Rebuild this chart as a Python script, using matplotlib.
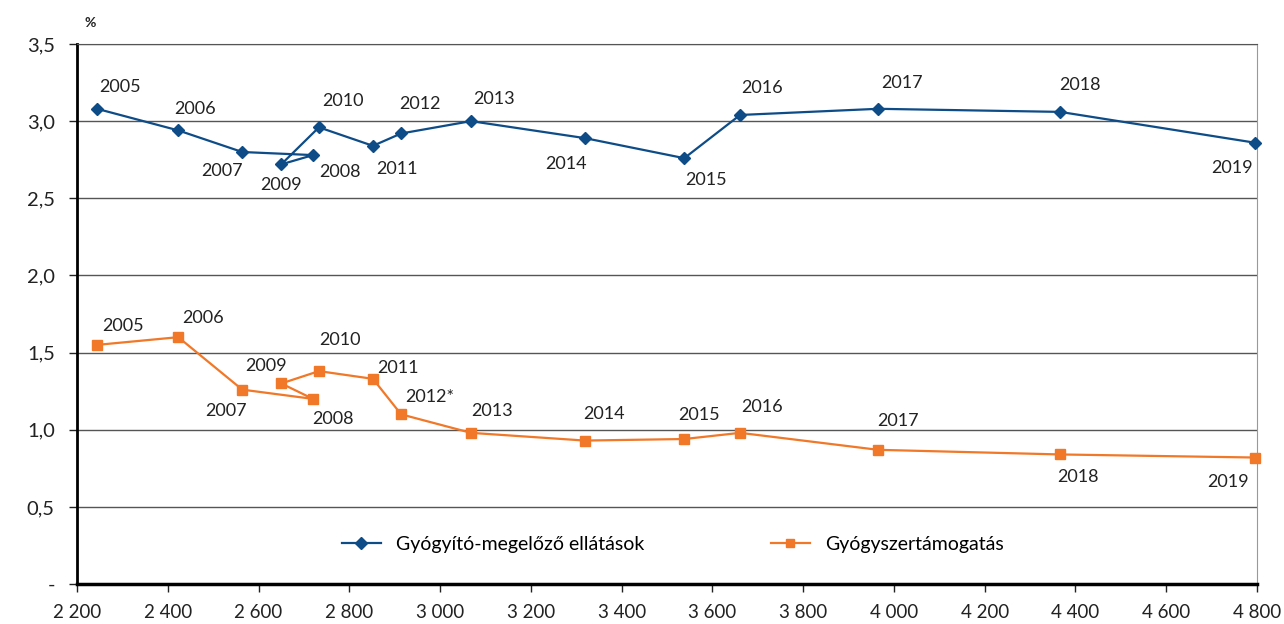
import matplotlib.pyplot as plt
from matplotlib.ticker import FuncFormatter

# --------------------------------------------------
# Data
# --------------------------------------------------
years = ["2005", "2006", "2007", "2008", "2009", "2010", "2011", "2012",
         "2013", "2014", "2015", "2016", "2017", "2018", "2019"]
x_values = [2244, 2423, 2564, 2720, 2650, 2733, 2852, 2914,
            3068, 3319, 3538, 3661, 3965, 4366, 4796]
care_share = [3.08, 2.94, 2.80, 2.78, 2.72, 2.96, 2.84, 2.92,
              3.00, 2.89, 2.76, 3.04, 3.08, 3.06, 2.86]
drug_share = [1.55, 1.60, 1.26, 1.20, 1.30, 1.38, 1.33, 1.10,
              0.98, 0.93, 0.94, 0.98, 0.87, 0.84, 0.82]
drug_labels = ["2005", "2006", "2007", "2008", "2009", "2010", "2011", "2012*",
               "2013", "2014", "2015", "2016", "2017", "2018", "2019"]
series_names = ["Gyógyító-megelőző ellátások", "Gyógyszertámogatás"]

# label offsets (pixels) for each point
care_offsets = [(23, 22), (17, 21), (-20, -19), (27, -17), (0, -21), (24, 26),
                (24, -23), (19, 29), (23, 22), (-19, -26), (22, -22), (22, 27),
                (24, 26), (20, 27), (-23, -25)]
drug_offsets = [(26, 19), (25, 19), (-16, -21), (20, -20), (-15, 17), (21, 31),
                (25, 11), (29, 17), (21, 22), (19, 27), (15, 24), (22, 26),
                (20, 29), (18, -23), (-27, -24)]

BLUE = "#0E4C88"
ORANGE = "#F07828"

plt.rcParams["font.family"] = ["Lato", "DejaVu Sans"]

fig = plt.figure(figsize=(12.84, 6.24), dpi=100)
ax = fig.add_axes([0.06, 0.064, 0.919, 0.8655])

ax.plot(x_values, care_share, color=BLUE, marker="D", markersize=6.5,
        linewidth=1.6, label=series_names[0], clip_on=False, zorder=3)
ax.plot(x_values, drug_share, color=ORANGE, marker="s", markersize=6.5,
        linewidth=1.6, label=series_names[1], clip_on=False, zorder=3)

for x, y, t, off in zip(x_values, care_share, years, care_offsets):
    ax.annotate(t, (x, y), xytext=off, textcoords="offset pixels",
                ha="center", va="center", fontsize=13, color="#222222")
for x, y, t, off in zip(x_values, drug_share, drug_labels, drug_offsets):
    ax.annotate(t, (x, y), xytext=off, textcoords="offset pixels",
                ha="center", va="center", fontsize=13, color="#222222")

# --------------------------------------------------
# Axes styling
# --------------------------------------------------
ax.set_xlim(2200, 4800)
ax.set_ylim(0, 3.5)
ax.set_xticks(range(2200, 4801, 200))
ax.set_yticks([0, 0.5, 1.0, 1.5, 2.0, 2.5, 3.0, 3.5])
ax.xaxis.set_major_formatter(FuncFormatter(lambda v, p: f"{int(v):,}".replace(",", " ")))
ax.yaxis.set_major_formatter(FuncFormatter(lambda v, p: "-" if v == 0 else f"{v:.1f}".replace(".", ",")))
ax.tick_params(axis="x", direction="out", length=6, width=1, labelsize=13.5, pad=8, colors="#222222")
ax.tick_params(axis="y", direction="out", length=6, width=1, labelsize=14.5, pad=10, colors="#222222")

ax.grid(axis="y", color="#555555", linewidth=1)
ax.set_axisbelow(True)
ax.spines["left"].set_linewidth(2)
ax.spines["left"].set_color("black")
ax.spines["bottom"].set_linewidth(2.5)
ax.spines["bottom"].set_color("black")
ax.spines["right"].set_color("#999999")
ax.spines["top"].set_color("#555555")

fig.text(0.066, 0.963, "%", fontsize=10, fontweight="bold", color="#222222", ha="left", va="center")

ax.legend(loc="center", bbox_to_anchor=(0.524, 0.127), bbox_transform=fig.transFigure,
          ncol=2, frameon=False, fontsize=14, columnspacing=6.5, handlelength=2.0,
          markerscale=0.9)

plt.savefig("out.png", dpi=100)
